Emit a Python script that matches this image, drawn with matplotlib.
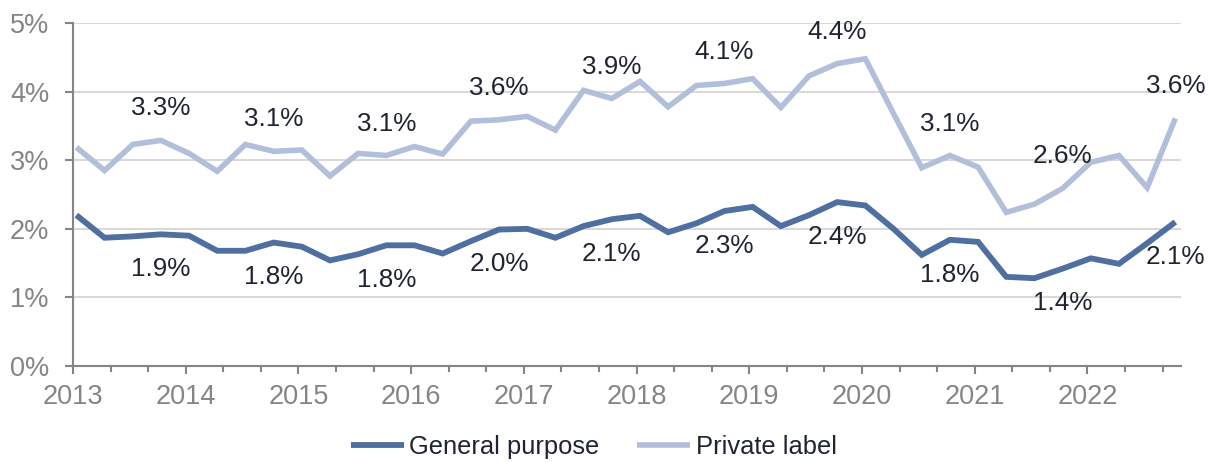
import numpy as np
import matplotlib
matplotlib.use('Agg')
import matplotlib.pyplot as plt
from matplotlib.ticker import MultipleLocator, FuncFormatter

plt.rcParams['font.family'] = ['Liberation Sans', 'DejaVu Sans']

# データ（四半期, 2013Q1〜2022Q4）
years = list(range(2013, 2023))
general_purpose = [2.20, 1.87, 1.89, 1.92, 1.90, 1.68, 1.68, 1.80, 1.74, 1.54,
                   1.63, 1.76, 1.76, 1.64, 1.82, 1.99, 2.00, 1.87, 2.04, 2.14,
                   2.19, 1.95, 2.08, 2.26, 2.32, 2.04, 2.20, 2.39, 2.34, 2.00,
                   1.62, 1.84, 1.81, 1.30, 1.28, 1.42, 1.57, 1.49, 1.79, 2.10]
private_label = [3.19, 2.85, 3.23, 3.29, 3.10, 2.84, 3.23, 3.13, 3.15, 2.77,
                 3.10, 3.07, 3.20, 3.09, 3.57, 3.59, 3.64, 3.44, 4.02, 3.90,
                 4.15, 3.78, 4.09, 4.12, 4.19, 3.77, 4.23, 4.41, 4.48, 3.68,
                 2.89, 3.07, 2.90, 2.24, 2.36, 2.59, 2.97, 3.07, 2.60, 3.61]
# 年間の値（ラベル）
general_annual = [1.9, 1.8, 1.8, 2.0, 2.1, 2.3, 2.4, 1.8, 1.4, 2.1]
private_annual = [3.3, 3.1, 3.1, 3.6, 3.9, 4.1, 4.4, 3.1, 2.6, 3.6]

x = np.array([y + q / 4 + 0.03 for y in years for q in range(4)])

dark = '#4e6fa0'
light = '#b1bfda'
grey = '#858585'
txt = '#1e2430'

fig = plt.figure(figsize=(12.14, 4.62), dpi=100)
ax = fig.add_axes([0.0601, 0.2078, 0.9127, 0.7422])

ax.plot(x, general_purpose, color=dark, lw=4.2, label='General purpose',
        solid_joinstyle='miter', solid_capstyle='butt')
ax.plot(x, private_label, color=light, lw=4.0, label='Private label',
        solid_joinstyle='miter', solid_capstyle='butt')

# ラベル（各年の第4四半期）
for k in range(len(years)):
    i = 4 * k + 3
    ax.annotate(f'{private_annual[k]:.1f}%', (x[i], private_label[i]),
                xytext=(0, 23), textcoords='offset points',
                ha='center', va='center', fontsize=18.8, color=txt)
    ax.annotate(f'{general_annual[k]:.1f}%', (x[i], general_purpose[i]),
                xytext=(0, -25), textcoords='offset points',
                ha='center', va='center', fontsize=18.8, color=txt)

ax.set_xlim(2013, 2022.83)
ax.set_ylim(0, 5)
ax.xaxis.set_major_locator(MultipleLocator(1))
ax.xaxis.set_minor_locator(MultipleLocator(1 / 3))
ax.xaxis.set_major_formatter(FuncFormatter(lambda v, p: f'{int(round(v))}'))
ax.yaxis.set_major_locator(MultipleLocator(1))
ax.yaxis.set_major_formatter(FuncFormatter(lambda v, p: f'{int(round(v))}%'))

ax.grid(axis='y', color='#d9d9d9', lw=1.5)
ax.set_axisbelow(True)
for s in ['top', 'right']:
    ax.spines[s].set_visible(False)
for s in ['left', 'bottom']:
    ax.spines[s].set_color(grey)
    ax.spines[s].set_linewidth(1.5)

ax.tick_params(axis='both', which='major', colors=grey, labelsize=19.5,
               width=1.5, length=6, direction='out')
ax.tick_params(axis='x', which='minor', colors=grey, width=1.5, length=4,
               direction='out')
ax.tick_params(axis='x', which='major', pad=7)
ax.tick_params(axis='y', which='major', pad=11)

leg = fig.legend(loc='center', bbox_to_anchor=(0.489, 0.033), ncol=2,
                 frameon=False, fontsize=18.4, handlelength=2.1,
                 handletextpad=0.2, columnspacing=1.45, borderpad=0)
for t in leg.get_texts():
    t.set_color(txt)

fig.savefig('out.png', dpi=100)
